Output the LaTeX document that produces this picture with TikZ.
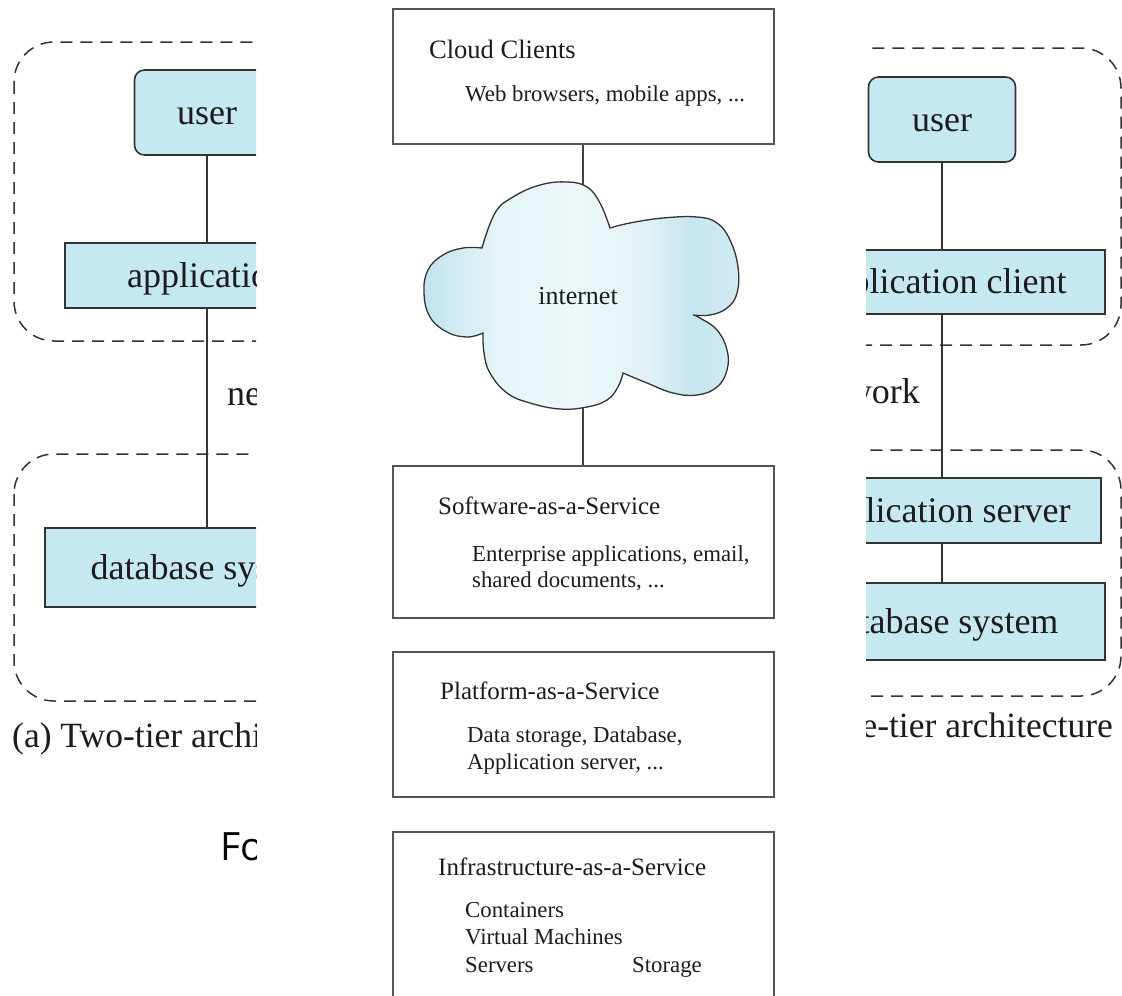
\documentclass[tikz,border=0pt]{standalone}
\usepackage{fontspec}
\setmainfont{Liberation Serif}
\newfontfamily\fosans{Open Sans}
\definecolor{boxblue}{HTML}{C6E8F0}
\definecolor{ink}{HTML}{333333}
\definecolor{frame}{HTML}{555555}
\definecolor{txt}{HTML}{1C1C1C}
\definecolor{cA}{HTML}{C2E3ED}
\definecolor{cB}{HTML}{D3ECF3}
\definecolor{cC}{HTML}{E6F4F8}
\definecolor{cD}{HTML}{EDF7FA}
\definecolor{cE}{HTML}{E2F2F7}
\definecolor{cF}{HTML}{C6E5EE}
\definecolor{cG}{HTML}{D2EBF2}
\pgfdeclarehorizontalshading{cloudshade}{100bp}{color(0bp)=(cA); color(25bp)=(cA); color(31bp)=(cB); color(37.5bp)=(cC); color(50bp)=(cD); color(60bp)=(cE); color(67.5bp)=(cF); color(75bp)=(cG); color(100bp)=(cG)}
\begin{document}
\begin{tikzpicture}[x=1pt,y=-1pt,
  tierbox/.style={draw=ink, line width=1.6pt, fill=boxblue, inner sep=0pt, text=txt, font=\fontsize{36}{40}\selectfont, text height=25pt, text depth=2pt},
  userbox/.style={tierbox, rounded corners=10pt},
  zone/.style={draw=ink, line width=1.5pt, dash pattern=on 12pt off 8pt, rounded corners=40pt},
  link/.style={draw=ink, line width=1.8pt},
  clink/.style={draw=black!75, line width=2pt},
  lbl/.style={inner sep=0pt, text=txt, font=\fontsize{36}{40}\selectfont},
  capt/.style={inner sep=0pt, text=txt, font=\fontsize{35.5}{40}\selectfont},
  cbox/.style={draw=frame, line width=1.8pt, fill=white, inner sep=0pt, anchor=north west},
  ctitle/.style={font=\fontsize{25}{30}\selectfont, anchor=base west, inner sep=0pt, text=txt},
  csub/.style={font=\fontsize{22.8}{27}\selectfont, anchor=base west, inner sep=0pt, text=txt}
]
\useasboundingbox (0,0) rectangle (1122,996);
\clip (0,0) rectangle (1122,996);

% ---------- background figure (partly hidden) ----------
\begin{scope}
\clip (0,0) rectangle (256,996) (866,0) rectangle (1122,996);
\fill[white] (0,0) rectangle (1122,996);
% two-tier
\draw[zone] (14,42) rectangle (400,341);
\draw[zone] (14,454) rectangle (400,701);
\node[userbox, minimum width=145pt, minimum height=85pt] (u1) at (207,112.5) {user};
\node[tierbox, minimum width=284pt, minimum height=65pt] (a1) at (207,275.5) {application};
\node[tierbox, minimum width=324pt, minimum height=79pt] (d1) at (207,567.5) {database system};
\draw[link] (u1) -- (a1);
\draw[link] (a1) -- (d1);
\node[lbl, anchor=base west] (n1) at (227,405) {network};
\node[capt, anchor=base west] (c1) at (12,747) {(a) Two-tier architecture};
\node[inner sep=0pt, anchor=base west, text=black, font=\fosans\fontsize{39}{44}\selectfont] (fo) at (220,860) {Fo};
% three-tier
\draw[zone] (760,48) rectangle (1121,345);
\draw[zone] (760,450) rectangle (1121,696);
\node[userbox, minimum width=147pt, minimum height=85pt] (u2) at (942,119.5) {user};
\node[tierbox, minimum width=326pt, minimum height=64pt] (a2) at (942,282) {application client};
\node[tierbox, minimum width=318pt, minimum height=65pt] (s2) at (942,510.5) {application server};
\node[tierbox, minimum width=326pt, minimum height=77pt] (d2) at (942,621.5) {database system};
\draw[link] (u2) -- (a2);
\draw[link] (a2) -- (s2);
\draw[link] (s2) -- (d2);
\node[lbl, anchor=base east] (n2) at (920,403) {network};
\node[capt, anchor=base east] (c2) at (1113,737) {(b) Three-tier architecture};
\end{scope}

% ---------- cloud computing figure ----------
\node[cbox, minimum width=381pt, minimum height=135pt] (cc) at (392,8) {};
\node[cbox, minimum width=381pt, minimum height=152pt] (saas) at (392,465) {};
\node[cbox, minimum width=381pt, minimum height=145pt] (paas) at (392,651) {};
\node[cbox, minimum width=381pt, minimum height=180pt] (iaas) at (392,831) {};
\draw[clink] (cc) -- (saas);

\path[shade, shading=cloudshade, draw=ink, line width=1.3pt]
  plot[smooth, tension=0.7] coordinates {(482,248) (495,213) (513,197) (540,185) (567,182) (587,187) (600,203) (610,228)}
  -- plot[smooth, tension=0.7] coordinates {(610,228) (630,223) (663,218) (697,217) (717,223) (730,240) (738,267) (737,293) (727,308) (710,315) (693,315)}
  -- plot[smooth, tension=0.7] coordinates {(693,315) (700,318) (717,330) (727,350) (727,370) (717,387) (697,395) (673,393) (647,383) (623,373)}
  -- plot[smooth, tension=0.7] coordinates {(623,373) (618,387) (607,400) (587,407) (560,409) (530,403) (507,393) (490,373) (484,353) (483,333)}
  -- plot[smooth, tension=0.7] coordinates {(483,333) (467,337) (447,332) (430,317) (424,293) (428,270) (443,255) (463,248) (482,248)}
  -- cycle;
\node[anchor=base, inner sep=0pt, text=txt, font=\fontsize{26}{30}\selectfont] (inet) at (578,304) {internet};

\node[ctitle, font=\fontsize{26.5}{30}\selectfont] (cct) at (429,58) {Cloud Clients};
\node[csub] (ccs) at (465,101) {Web browsers, mobile apps, ...};

\node[ctitle] (st) at (438,514.5) {Software-as-a-Service};
\node[csub] (s1) at (472,561) {Enterprise applications, email,};
\node[csub] (s2t) at (472,587) {shared documents, ...};

\node[ctitle] (pt) at (440,699) {Platform-as-a-Service};
\node[csub] (p1) at (467,742) {Data storage, Database,};
\node[csub] (p2) at (467,769) {Application server, ...};

\node[ctitle] (it) at (438,875) {Infrastructure-as-a-Service};
\node[csub] (i1) at (465,917) {Containers};
\node[csub] (i2) at (465,944) {Virtual Machines};
\node[csub] (i3) at (465,972) {Servers};
\node[csub] (i4) at (632,972) {Storage};
\end{tikzpicture}
\end{document}
